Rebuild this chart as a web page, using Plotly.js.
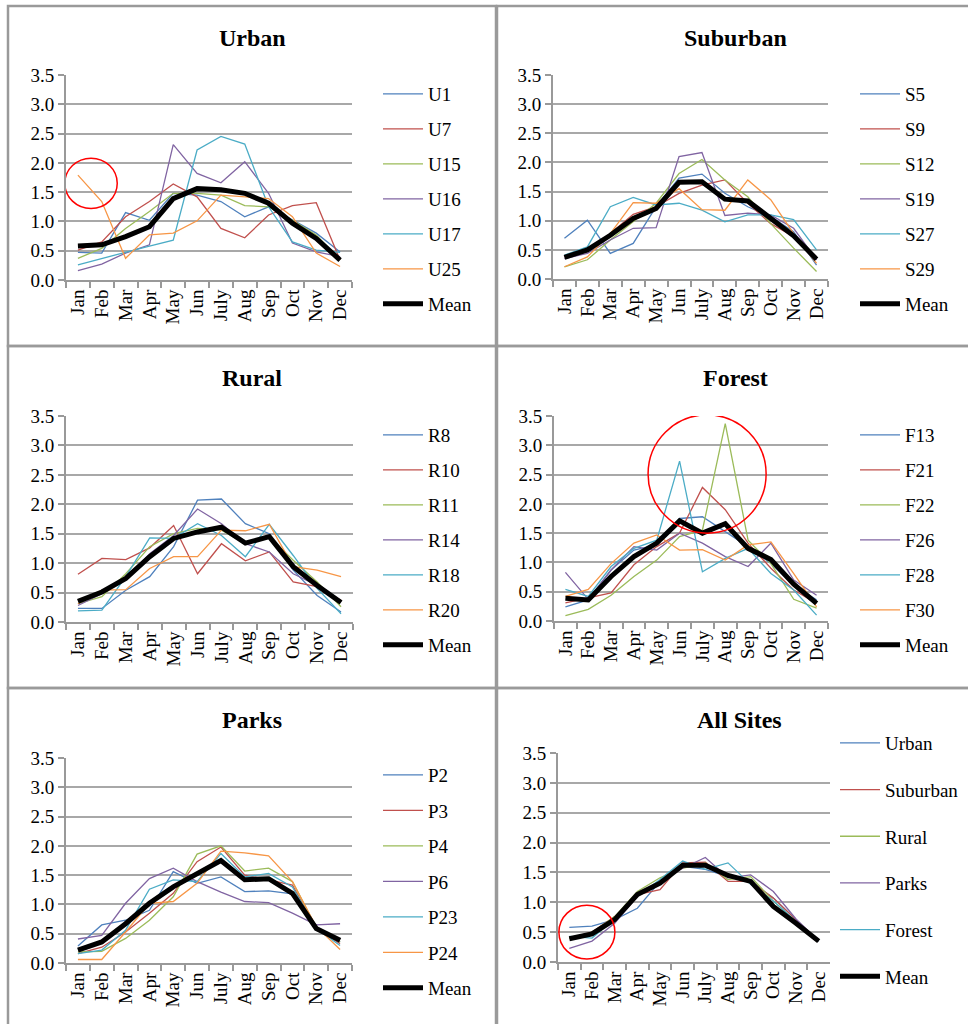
<!DOCTYPE html>
<html>
<head>
<meta charset="utf-8">
<script src="https://cdn.plot.ly/plotly-3.0.1.min.js"></script>
<style>html,body{margin:0;padding:0;background:#fff;}#chart{width:968px;height:1024px;}</style>
</head>
<body>
<div id="chart"></div>
<script>
// ---------- data ----------
const months = ['Jan','Feb','Mar','Apr','May','Jun','July','Aug','Sep','Oct','Nov','Dec'];

// Urban
const U1  = [0.47,0.46,1.15,1.02,1.48,1.45,1.34,1.08,1.25,1.02,0.80,0.48];
const U7  = [0.51,0.65,1.08,1.34,1.64,1.42,0.88,0.72,1.11,1.27,1.32,0.34];
const U15 = [0.37,0.54,0.88,1.17,1.48,1.48,1.45,1.27,1.25,1.02,0.77,0.34];
const U16 = [0.16,0.27,0.46,0.60,2.31,1.82,1.66,2.02,1.48,0.63,0.48,0.40];
const U17 = [0.26,0.37,0.48,0.58,0.68,2.22,2.45,2.32,1.25,0.65,0.51,0.47];
const U25 = [1.79,1.34,0.37,0.77,0.80,1.01,1.45,1.42,1.39,1.08,0.46,0.23];
const urbanMean = [0.58,0.60,0.74,0.91,1.39,1.56,1.54,1.48,1.31,0.97,0.71,0.34];

// Suburban
const S5  = [0.70,1.01,0.44,0.61,1.24,1.73,1.80,1.47,1.24,1.07,0.81,0.24];
const S9  = [0.38,0.47,0.78,1.11,1.24,1.47,1.61,1.70,1.30,0.95,0.73,0.38];
const S12 = [0.21,0.33,0.67,0.98,1.30,1.81,2.05,1.70,1.41,0.95,0.53,0.13];
const S19 = [0.35,0.44,0.67,0.87,0.88,2.10,2.17,1.09,1.13,1.10,0.87,0.33];
const S27 = [0.41,0.55,1.24,1.40,1.27,1.30,1.18,0.98,1.10,1.10,1.02,0.50];
const S29 = [0.21,0.38,0.78,1.31,1.30,1.55,1.19,1.18,1.70,1.36,0.78,0.27];
const suburbanMean = [0.37,0.50,0.75,1.04,1.21,1.66,1.67,1.37,1.34,1.04,0.74,0.34];

// Rural
const R8  = [0.23,0.23,0.54,0.77,1.28,2.07,2.09,1.67,1.50,0.88,0.45,0.17];
const R10 = [0.81,1.08,1.06,1.26,1.64,0.82,1.33,1.04,1.19,0.68,0.60,0.37];
const R11 = [0.31,0.43,0.82,1.28,1.50,1.59,1.56,1.33,1.45,1.05,0.68,0.26];
const R14 = [0.28,0.48,0.74,1.16,1.47,1.92,1.67,1.33,1.19,0.82,0.62,0.34];
const R18 = [0.19,0.20,0.77,1.43,1.42,1.67,1.47,1.11,1.66,1.13,0.57,0.14];
const R20 = [0.31,0.54,0.55,0.91,1.11,1.11,1.56,1.55,1.66,0.94,0.88,0.77];
const ruralMean = [0.35,0.51,0.74,1.11,1.42,1.53,1.61,1.34,1.45,0.94,0.62,0.33];

// Forest
const F13 = [0.24,0.36,0.87,1.21,1.30,1.75,1.78,1.53,1.27,0.98,0.61,0.36];
const F21 = [0.31,0.39,0.48,0.96,1.27,1.50,2.28,1.90,1.33,0.90,0.53,0.30];
const F22 = [0.09,0.20,0.44,0.76,1.04,1.44,1.55,3.37,1.38,0.98,0.37,0.22];
const F26 = [0.83,0.37,0.87,1.27,1.21,1.50,1.33,1.10,0.93,1.33,0.70,0.44];
const F28 = [0.54,0.42,0.93,1.24,1.38,2.73,0.84,1.07,1.24,0.81,0.53,0.10];
const F30 = [0.42,0.54,0.98,1.33,1.47,1.21,1.22,1.04,1.30,1.35,0.81,0.24];
const forestMean = [0.39,0.36,0.76,1.10,1.33,1.71,1.50,1.66,1.24,1.05,0.63,0.30];

// Parks
const P2  = [0.29,0.65,0.73,0.90,1.56,1.36,1.47,1.22,1.23,1.18,0.59,0.36];
const P3  = [0.16,0.27,0.53,0.85,1.19,1.73,1.98,1.50,1.42,1.33,0.59,0.33];
const P4  = [0.19,0.20,0.42,0.73,1.13,1.86,2.00,1.57,1.62,1.39,0.61,0.36];
const P6  = [0.41,0.47,1.02,1.44,1.62,1.39,1.21,1.05,1.03,0.85,0.65,0.67];
const P23 = [0.16,0.22,0.56,1.26,1.42,1.39,1.87,1.47,1.53,1.30,0.59,0.30];
const P24 = [0.06,0.06,0.53,1.02,1.05,1.36,1.91,1.88,1.83,1.39,0.62,0.23];
const parksMean = [0.22,0.36,0.67,1.02,1.30,1.53,1.75,1.42,1.44,1.19,0.59,0.39];

// All sites
const allUrban    = [0.58,0.60,0.71,0.90,1.35,1.60,1.55,1.43,1.35,1.07,0.71,0.35];
const allSuburban = [0.40,0.50,0.76,1.13,1.21,1.66,1.67,1.35,1.35,1.07,0.71,0.35];
const allRural    = [0.40,0.49,0.76,1.18,1.41,1.57,1.66,1.38,1.43,1.02,0.68,0.35];
const allParks    = [0.23,0.35,0.65,1.10,1.35,1.57,1.75,1.41,1.46,1.18,0.72,0.35];
const allForest   = [0.43,0.40,0.72,1.10,1.38,1.69,1.55,1.66,1.30,1.02,0.68,0.35];
const allMean     = [0.39,0.47,0.71,1.13,1.32,1.62,1.62,1.45,1.35,0.93,0.65,0.35];

const seriesColors = ['#4F81BD','#C0504D','#9BBB59','#8064A2','#4BACC6','#F79646'];

// ---------- layout geometry (pixels) ----------
const W = 968, H = 1024;
const FONT = 'Liberation Serif, Times New Roman, serif';
const px = v => v / W;
const py = v => 1 - v / H;

const panels = [
  {title:'Urban', names:['U1','U7','U15','U16','U17','U25'], data:[U1,U7,U15,U16,U17,U25], mean:urbanMean,
   box:[66,352,75,280], titlePos:[252,38], legPos:[378,75], gap:7.3},
  {title:'Suburban', names:['S5','S9','S12','S19','S27','S29'], data:[S5,S9,S12,S19,S27,S29], mean:suburbanMean,
   box:[553,828,75,279], titlePos:[735,38], legPos:[855,75], gap:7.3},
  {title:'Rural', names:['R8','R10','R11','R14','R18','R20'], data:[R8,R10,R11,R14,R18,R20], mean:ruralMean,
   box:[66,353,416,622], titlePos:[252,378], legPos:[378,416], gap:7.3},
  {title:'Forest', names:['F13','F21','F22','F26','F28','F30'], data:[F13,F21,F22,F26,F28,F30], mean:forestMean,
   box:[554,828,416,621], titlePos:[735,378], legPos:[855,416], gap:7.3},
  {title:'Parks', names:['P2','P3','P4','P6','P23','P24'], data:[P2,P3,P4,P6,P23,P24], mean:parksMean,
   box:[66,352,758,963], titlePos:[252,720], legPos:[378,756], gap:7.8},
  {title:'All Sites', names:['Urban','Suburban','Rural','Parks','Forest'], data:[allUrban,allSuburban,allRural,allParks,allForest], mean:allMean,
   box:[558,830,753,962], titlePos:[739,720], legPos:[835,724], gap:19},
];

const traces = [];
const layout = {
  width: W, height: H,
  margin: {l:0, r:0, t:0, b:0},
  paper_bgcolor: '#fff', plot_bgcolor: 'rgba(0,0,0,0)',
  font: {family: FONT, color: '#000', size: 16},
  showlegend: true,
  shapes: [], annotations: []
};

panels.forEach((p, i) => {
  const k = i === 0 ? '' : String(i + 1);
  const xa = 'x' + k, ya = 'y' + k, lg = 'legend' + k;
  p.data.forEach((vals, j) => {
    traces.push({
      type: 'scatter', mode: 'lines', x: months, y: vals, name: p.names[j],
      xaxis: xa, yaxis: ya, legend: lg, legendgroup: 'g' + i + '_' + j,
      line: {color: seriesColors[j], width: 1.3}, hoverinfo: 'x+y+name'
    });
  });
  traces.push({
    type: 'scatter', mode: 'lines', x: months, y: p.mean, name: 'Mean',
    xaxis: xa, yaxis: ya, legend: lg, legendgroup: 'g' + i + '_m',
    line: {color: '#000', width: 5}, hoverinfo: 'x+y+name'
  });
  const [x0, x1, yTop, yBot] = p.box;
  layout['xaxis' + k] = {
    domain: [px(x0), px(x1)], anchor: ya, type: 'category',
    categoryorder: 'array', categoryarray: months,
    range: [-0.5, 11.5], tickmode: 'linear', tick0: 0, dtick: 1,
    tickson: 'boundaries', ticks: 'outside', ticklen: 6,
    tickcolor: '#999', tickwidth: 2, showline: true, linecolor: '#999', linewidth: 2,
    showgrid: false, zeroline: false, tickangle: -90,
    tickfont: {family: FONT, size: 19, color: '#000'}, fixedrange: true
  };
  layout['yaxis' + k] = {
    domain: [py(yBot), py(yTop)], anchor: xa, range: [0, 3.5], dtick: 0.5,
    tickformat: '.1f', ticks: 'outside', ticklen: 6, tickcolor: '#999', tickwidth: 2,
    showline: true, linecolor: '#999', linewidth: 2,
    showgrid: true, gridcolor: '#a8a8a8', gridwidth: 2, zeroline: false,
    tickfont: {family: FONT, size: 19, color: '#000'}, fixedrange: true
  };
  layout[lg] = {
    x: px(p.legPos[0]), y: py(p.legPos[1]), xanchor: 'left', yanchor: 'top',
    bgcolor: 'rgba(0,0,0,0)', borderwidth: 0, itemwidth: 40,
    traceorder: 'grouped', tracegroupgap: p.gap,
    font: {family: FONT, size: 19, color: '#000'}
  };
  layout.annotations.push({
    xref: 'paper', yref: 'paper', x: px(p.titlePos[0]), y: py(p.titlePos[1]),
    xanchor: 'center', yanchor: 'middle', showarrow: false,
    text: '<b>' + p.title + '</b>', font: {family: FONT, size: 24, color: '#000'}
  });
});

// panel frames
const frameCols = [[8, 496], [497, 972]];
const frameRows = [[6, 346], [346, 688], [688, 1030]];
frameRows.forEach(r => frameCols.forEach(c => {
  layout.shapes.push({
    type: 'rect', xref: 'paper', yref: 'paper',
    x0: px(c[0]), x1: px(c[1]), y0: py(r[1]), y1: py(r[0]),
    line: {color: '#9a9a9a', width: 2.5}, fillcolor: 'rgba(0,0,0,0)', layer: 'below'
  });
}));

// red highlight circles (in each subplot's data coordinates)
const circles = [
  {xr: 'x',  yr: 'y',  x0: -0.55, x1: 1.65, y0: 1.22, y1: 2.08},
  {xr: 'x4', yr: 'y4', x0: 3.62, x1: 8.79, y0: 1.50, y1: 3.52},
  {xr: 'x6', yr: 'y6', x0: -0.46, x1: 2.01, y0: 0.05, y1: 0.95}
];
circles.forEach(c => layout.shapes.push({
  type: 'circle', xref: c.xr, yref: c.yr, x0: c.x0, x1: c.x1, y0: c.y0, y1: c.y1,
  line: {color: '#ff0000', width: 1.5}, fillcolor: 'rgba(0,0,0,0)'
}));

Plotly.newPlot('chart', traces, layout, {displayModeBar: false, staticPlot: true});
</script>
</body>
</html>
